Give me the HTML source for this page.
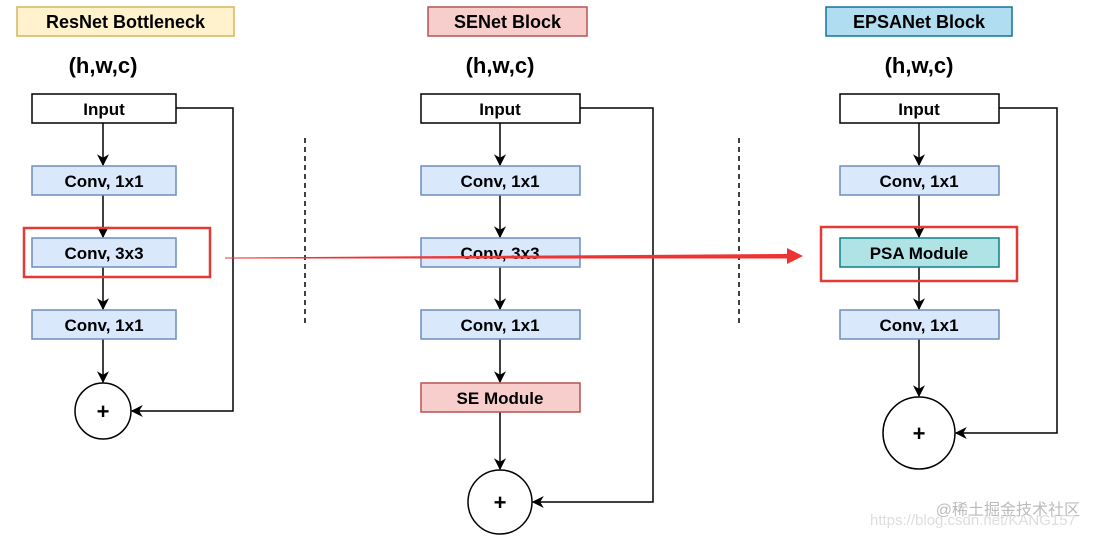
<!DOCTYPE html>
<html><head><meta charset="utf-8"><style>
html,body{margin:0;padding:0;background:#fff;}
</style></head><body>
<svg width="1097" height="538" viewBox="0 0 1097 538" xmlns="http://www.w3.org/2000/svg" font-family="Liberation Sans, Arial, sans-serif" font-weight="bold">
<defs>
<marker id="ah" viewBox="0 0 10 10" refX="9" refY="5" markerWidth="12" markerHeight="12" orient="auto" markerUnits="userSpaceOnUse">
<path d="M0,0 L10,5 L0,10 L3,5 z" fill="#000"/></marker>
</defs>
<g stroke-width="1.5">
<rect x="17" y="7" width="217" height="29" fill="#fff2cc" stroke="#d6b656"/>
<text x="125.5" y="28" font-size="18" text-anchor="middle">ResNet Bottleneck</text>
<rect x="428" y="7" width="159" height="29" fill="#f8cecc" stroke="#b85450"/>
<text x="507.5" y="28" font-size="18" text-anchor="middle">SENet Block</text>
<rect x="826" y="7" width="186" height="29" fill="#b1ddf0" stroke="#10739e"/>
<text x="919" y="28" font-size="18" text-anchor="middle">EPSANet Block</text>
<text x="103" y="73" font-size="22" text-anchor="middle">(h,w,c)</text>
<text x="500" y="73" font-size="22" text-anchor="middle">(h,w,c)</text>
<text x="919" y="73" font-size="22" text-anchor="middle">(h,w,c)</text>

<line x1="305" y1="138" x2="305" y2="325" stroke="#000" stroke-dasharray="5,4"/>
<line x1="739" y1="138" x2="739" y2="325" stroke="#000" stroke-dasharray="5,4"/>

<g stroke="#000" fill="none">
<line x1="103" y1="123" x2="103" y2="165" marker-end="url(#ah)"/>
<line x1="103" y1="195" x2="103" y2="237" marker-end="url(#ah)"/>
<line x1="103" y1="267" x2="103" y2="309" marker-end="url(#ah)"/>
<line x1="103" y1="339" x2="103" y2="382" marker-end="url(#ah)"/>
<polyline points="176,108 233,108 233,411 132,411" marker-end="url(#ah)"/>
</g>
<rect x="32" y="94" width="144" height="29" fill="#fff" stroke="#000"/>
<text x="104" y="115" font-size="17" text-anchor="middle">Input</text>
<rect x="32" y="166" width="144" height="29" fill="#dae8fc" stroke="#6c8ebf"/>
<text x="104" y="187" font-size="17" text-anchor="middle">Conv, 1x1</text>
<rect x="32" y="238" width="144" height="29" fill="#dae8fc" stroke="#6c8ebf"/>
<text x="104" y="259" font-size="17" text-anchor="middle">Conv, 3x3</text>
<rect x="24" y="228" width="186" height="49" fill="none" stroke="#e53935" stroke-width="2.5"/>
<rect x="32" y="310" width="144" height="29" fill="#dae8fc" stroke="#6c8ebf"/>
<text x="104" y="331" font-size="17" text-anchor="middle">Conv, 1x1</text>
<circle cx="103" cy="411" r="28" fill="#fff" stroke="#000"/>
<text x="103" y="419" font-size="22" text-anchor="middle">+</text>

<g stroke="#000" fill="none">
<line x1="500" y1="123" x2="500" y2="165" marker-end="url(#ah)"/>
<line x1="500" y1="195" x2="500" y2="237" marker-end="url(#ah)"/>
<line x1="500" y1="267" x2="500" y2="309" marker-end="url(#ah)"/>
<line x1="500" y1="339" x2="500" y2="382" marker-end="url(#ah)"/>
<line x1="500" y1="412" x2="500" y2="469" marker-end="url(#ah)"/>
<polyline points="580,108 653,108 653,502 533,502" marker-end="url(#ah)"/>
</g>
<rect x="421" y="94" width="159" height="29" fill="#fff" stroke="#000"/>
<text x="500" y="115" font-size="17" text-anchor="middle">Input</text>
<rect x="421" y="166" width="159" height="29" fill="#dae8fc" stroke="#6c8ebf"/>
<text x="500" y="187" font-size="17" text-anchor="middle">Conv, 1x1</text>
<rect x="421" y="238" width="159" height="29" fill="#dae8fc" stroke="#6c8ebf"/>
<text x="500" y="259" font-size="17" text-anchor="middle">Conv, 3x3</text>
<rect x="421" y="310" width="159" height="29" fill="#dae8fc" stroke="#6c8ebf"/>
<text x="500" y="331" font-size="17" text-anchor="middle">Conv, 1x1</text>
<rect x="421" y="383" width="159" height="29" fill="#f8cecc" stroke="#b85450"/>
<text x="500" y="404" font-size="17" text-anchor="middle">SE Module</text>
<circle cx="500" cy="502" r="32" fill="#fff" stroke="#000"/>
<text x="500" y="510" font-size="22" text-anchor="middle">+</text>

<g stroke="#000" fill="none">
<line x1="919" y1="123" x2="919" y2="165" marker-end="url(#ah)"/>
<line x1="919" y1="195" x2="919" y2="237" marker-end="url(#ah)"/>
<line x1="919" y1="267" x2="919" y2="309" marker-end="url(#ah)"/>
<line x1="919" y1="339" x2="919" y2="396" marker-end="url(#ah)"/>
<polyline points="999,108 1057,108 1057,433 956,433" marker-end="url(#ah)"/>
</g>
<rect x="840" y="94" width="159" height="29" fill="#fff" stroke="#000"/>
<text x="919" y="115" font-size="17" text-anchor="middle">Input</text>
<rect x="840" y="166" width="159" height="29" fill="#dae8fc" stroke="#6c8ebf"/>
<text x="919" y="187" font-size="17" text-anchor="middle">Conv, 1x1</text>
<rect x="840" y="238" width="159" height="29" fill="#b0e3e6" stroke="#0e8088"/>
<text x="919" y="259" font-size="17" text-anchor="middle">PSA Module</text>
<rect x="821" y="227" width="196" height="54" fill="none" stroke="#e53935" stroke-width="2.5"/>
<rect x="840" y="310" width="159" height="29" fill="#dae8fc" stroke="#6c8ebf"/>
<text x="919" y="331" font-size="17" text-anchor="middle">Conv, 1x1</text>
<circle cx="919" cy="433" r="36" fill="#fff" stroke="#000"/>
<text x="919" y="441" font-size="22" text-anchor="middle">+</text>
</g>

<polygon points="225,257.5 787,254 787,248 803,256 787,264 787,258.5 225,258.5" fill="#ee3333"/>

<text x="1080" y="515" font-size="16" font-weight="normal" fill="#bbb" text-anchor="end" font-family="Liberation Sans, Noto Sans CJK SC, sans-serif">@稀土掘金技术社区</text>
<text x="870" y="525" font-size="15" font-weight="normal" fill="#ddd" font-family="Liberation Sans, sans-serif">https://blog.csdn.net/KANG157</text>
</svg>
</body></html>
